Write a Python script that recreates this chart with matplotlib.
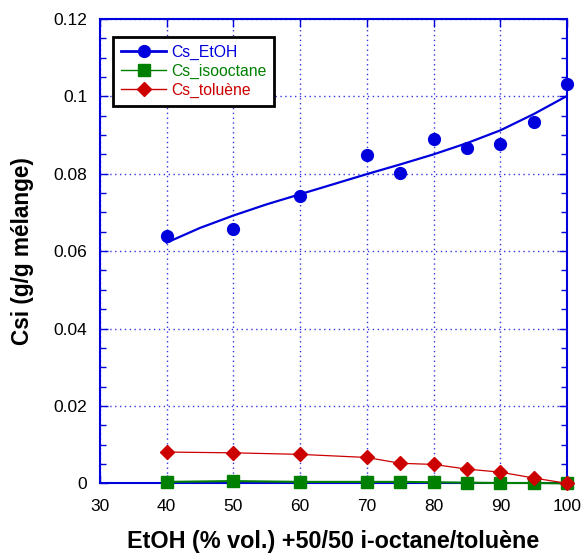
import numpy as np
import matplotlib
matplotlib.use("Agg")
import matplotlib.pyplot as plt
from matplotlib.lines import Line2D
from matplotlib.ticker import MultipleLocator

plt.rcParams['font.family'] = ['Liberation Sans', 'DejaVu Sans']

# EtOH (% vol.) dans le mélange 50/50 i-octane/toluène
etoh = [40, 50, 60, 70, 75, 80, 85, 90, 95, 100]

# solubilités mesurées (g/g mélange)
cs_etoh = [0.0638, 0.0657, 0.0743, 0.0848, 0.0803, 0.0889, 0.0866, 0.0877, 0.0933, 0.1032]
cs_isooctane = [0.0004, 0.0006, 0.0004, 0.0004, 0.0004, 0.0003, 0.0002, 0.0001, 0.0001, 0.0]
cs_toluene = [0.0081, 0.0079, 0.0075, 0.0067, 0.0052, 0.0049, 0.0037, 0.0029, 0.0014, 0.0]

# courbe de tendance EtOH
fit_x = [40, 45, 50, 55, 60, 65, 70, 75, 80, 85, 90, 95, 100]
fit_y = [0.0622, 0.0660, 0.0692, 0.0721, 0.0747, 0.0773, 0.0799, 0.0824, 0.0850, 0.0879, 0.0912, 0.0954, 0.1001]

blue = '#0000dd'
green = '#008000'
red = '#cc0000'

fig = plt.figure(figsize=(5.81, 5.55), dpi=100)
ax = fig.add_axes([0.172, 0.129, 0.804, 0.837])

ax.plot(fit_x, fit_y, color=blue, lw=1.6, zorder=3)
ax.plot(etoh, cs_etoh, 'o', color=blue, ms=8.5, zorder=4, clip_on=False)
ax.plot(etoh, cs_isooctane, '-s', color=green, lw=1.5, ms=8.5, zorder=4, clip_on=False)
ax.plot(etoh, cs_toluene, '-D', color=red, lw=0.9, ms=7.5, zorder=5, clip_on=False)

ax.set_xlim(30, 100)
ax.set_ylim(0, 0.12)
ax.xaxis.set_major_locator(MultipleLocator(10))
ax.yaxis.set_minor_locator(MultipleLocator(0.005))
ax.set_yticks([0, 0.02, 0.04, 0.06, 0.08, 0.1, 0.12])
ax.set_yticklabels(['0', '0.02', '0.04', '0.06', '0.08', '0.1', '0.12'])

ax.tick_params(which='both', direction='in', top=True, right=True, color=blue, labelsize=12.5)
ax.tick_params(which='major', length=6, width=1)
ax.tick_params(which='minor', length=4, width=1)
ax.tick_params(axis='x', pad=11)
ax.tick_params(axis='y', pad=9)
for s in ax.spines.values():
    s.set_color(blue)
    s.set_linewidth(1.5)

ax.grid(True, which='major', color=blue, linestyle=(0, (1, 2.5)), lw=1, alpha=0.8)
ax.set_axisbelow(True)

ax.set_xlabel("EtOH (% vol.) +50/50 i-octane/toluène", fontsize=16.8, fontweight='bold', labelpad=12)
ax.set_ylabel("Csi (g/g mélange)", fontsize=16.3, fontweight='bold', labelpad=14)

handles = [
    Line2D([], [], color=blue, lw=2, marker='o', ms=8.5),
    Line2D([], [], color=green, lw=1, marker='s', ms=8),
    Line2D([], [], color=red, lw=1, marker='D', ms=7.5),
]
leg = ax.legend(handles, ['Cs_EtOH', 'Cs_isooctane', 'Cs_toluène'], loc='upper left',
                bbox_to_anchor=(0.028, 0.961), borderaxespad=0, fontsize=11.3,
                fancybox=False, framealpha=1, edgecolor='black', handlelength=2.9,
                handletextpad=0.3, labelspacing=0.25, borderpad=0.5)
leg.get_frame().set_linewidth(2)
for t, c in zip(leg.get_texts(), [blue, green, red]):
    t.set_color(c)

fig.savefig("out.png", dpi=100)
